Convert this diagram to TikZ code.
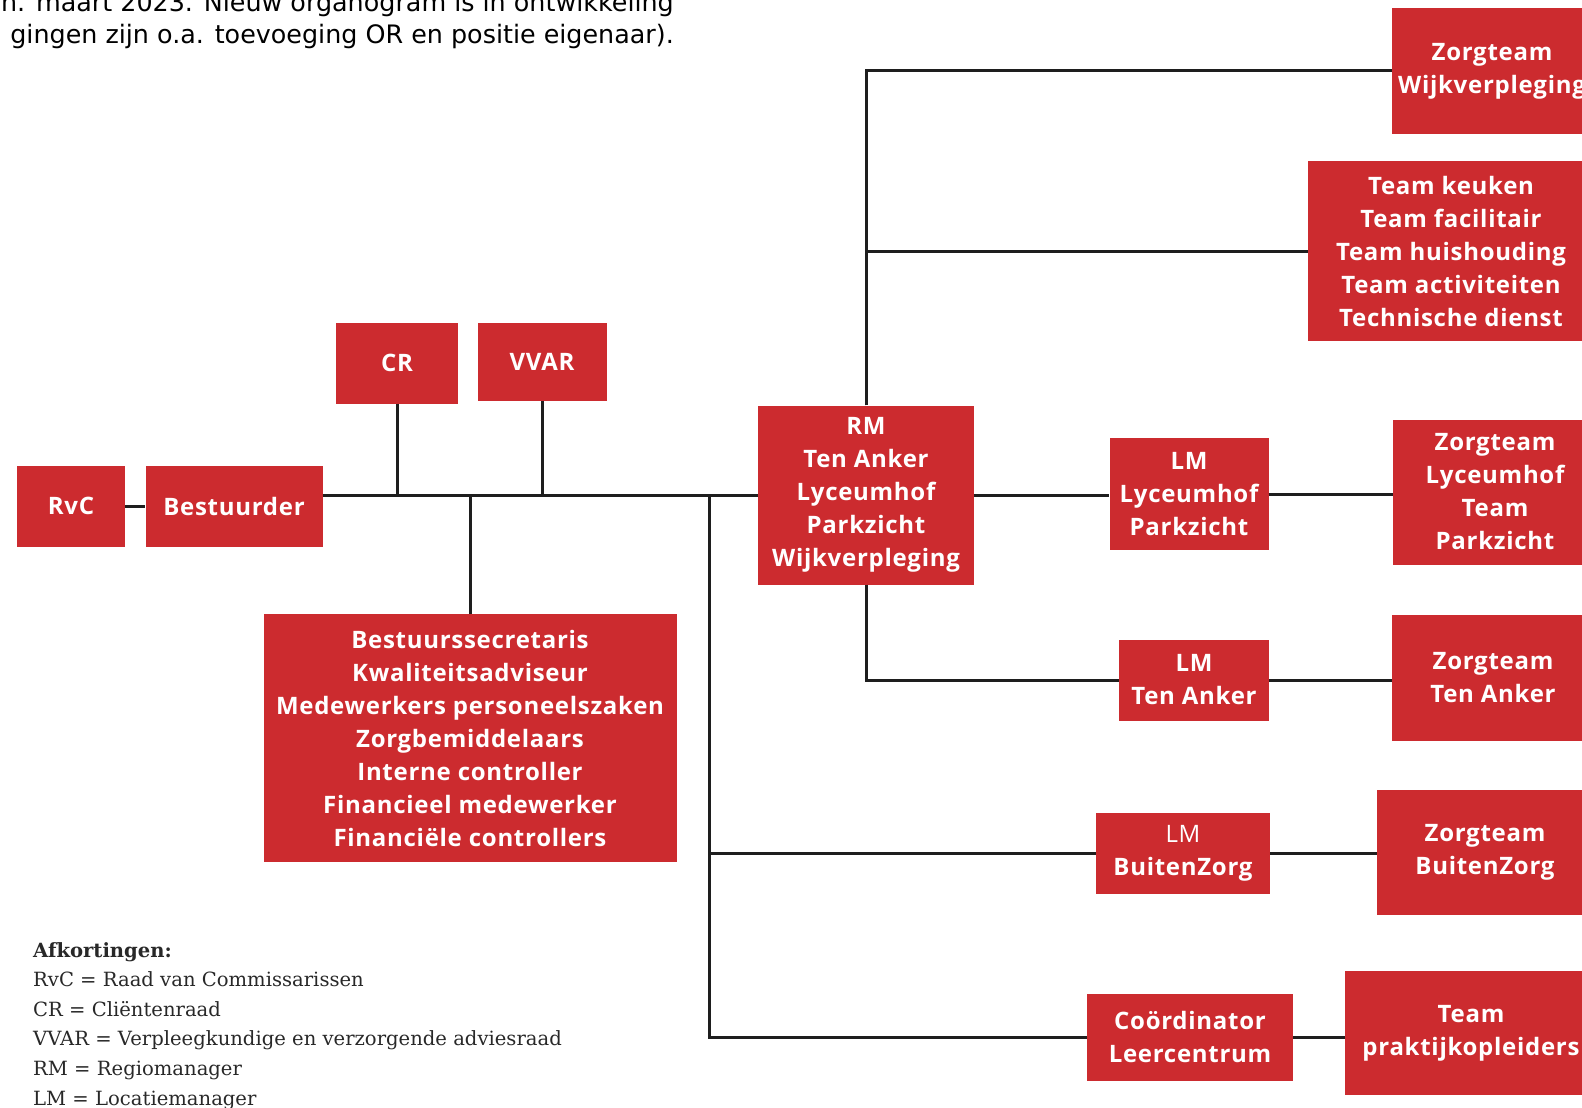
\documentclass[tikz,border=0pt]{standalone}
\usepackage{fontspec}
\usepackage{xcolor}
\usepackage{tikz}
\newfontfamily\boxfont{Open Sans}[LetterSpace=3]
\newfontfamily\notefont{DejaVu Serif}
\newfontfamily\topfont{DejaVu Sans}
\definecolor{orgRed}{RGB}{204,43,47}
\definecolor{orgLine}{RGB}{30,30,30}
\definecolor{orgText}{RGB}{40,40,40}
\tikzset{
  orgbox/.style={fill=orgRed, text=white, inner sep=0pt, align=center,
    font=\boxfont\bfseries\fontsize{24}{33}\selectfont},
  orgline/.style={draw=orgLine, line width=3pt},
  topnote/.style={anchor=base east, inner sep=0pt, text=black, font=\topfont\fontsize{25.4}{32}\selectfont},
}

\begin{document}
\begin{tikzpicture}[x=1pt, y=-1pt]
\useasboundingbox (0,0) rectangle (1582,1108);

% top note, cut off at the page edge
\node[topnote] (notitie1) at (674,12) {n. maart 2023. Nieuw organogram is in ontwikkeling};
\node[topnote] (notitie2) at (674,44) {gingen zijn o.a. toevoeging OR en positie eigenaar).};

% board
\node[orgbox, minimum width=108pt, minimum height=81pt] (rvc) at (71,506) {RvC};
\node[orgbox, minimum width=177pt, minimum height=81pt] (bestuurder) at (234,506) {Bestuurder};
\node[orgbox, minimum width=122pt, minimum height=81pt] (cr) at (397,363) {CR};
\node[orgbox, minimum width=129pt, minimum height=78pt] (vvar) at (542,362) {VVAR};
\node[orgbox, minimum width=413pt, minimum height=248pt] (staf) at (470,738)
  {Bestuurssecretaris\\Kwaliteitsadviseur\\Medewerkers personeelszaken\\Zorgbemiddelaars\\Interne controller\\Financieel medewerker\\Financiële controllers};

% region
\node[orgbox, minimum width=216pt, minimum height=179pt] (rm) at (866,495)
  {RM\\Ten Anker\\Lyceumhof\\Parkzicht\\Wijkverpleging};
\node[orgbox, minimum width=200pt, minimum height=125pt] (ztwijk) at (1492,71) {Zorgteam\\Wijkverpleging};
\node[orgbox, minimum width=286pt, minimum height=180pt] (teams) at (1451,251)
  {Team keuken\\Team facilitair\\Team huishouding\\Team activiteiten\\Technische dienst};
\node[orgbox, minimum width=159pt, minimum height=112pt] (lmlyc) at (1189,494) {LM\\Lyceumhof\\Parkzicht};
\node[orgbox, minimum width=204pt, minimum height=145pt] (ztlyc) at (1495,492) {Zorgteam\\Lyceumhof\\Team\\Parkzicht};
\node[orgbox, minimum width=150pt, minimum height=81pt] (lmta) at (1194,680) {LM\\Ten Anker};
\node[orgbox, minimum width=202pt, minimum height=126pt] (ztta) at (1493,678) {Zorgteam\\Ten Anker};
\node[orgbox, minimum width=174pt, minimum height=81pt] (lmbz) at (1183,853) {{\mdseries LM}\\BuitenZorg};
\node[orgbox, minimum width=216pt, minimum height=125pt] (ztbz) at (1485,852) {Zorgteam\\BuitenZorg};
\node[orgbox, minimum width=206pt, minimum height=87pt] (coord) at (1190,1037) {Coördinator\\Leercentrum};
\node[orgbox, minimum width=252pt, minimum height=124pt] (tpo) at (1471,1033) {Team\\praktijkopleiders};

\coordinate (tak) at (709,495);

% connectors
\draw[orgline] (rvc) -- (bestuurder);
\draw[orgline] (bestuurder.east |- rm.west) -- (rm.west);
\draw[orgline] (cr.south) -- (cr.south |- rm.west);
\draw[orgline] (vvar.south) -- (vvar.south |- rm.west);
\draw[orgline] (staf.north) -- (staf.north |- rm.west);
\draw[orgline] (tak) |- (lmbz.west);
\draw[orgline] (tak) |- (coord.west);
\draw[orgline] (rm.north) |- (ztwijk.west);
\draw[orgline] (rm.north) |- (teams.west);
\draw[orgline] (rm.east) -- (rm.east -| lmlyc.west);
\draw[orgline] (lmlyc.east) -- (lmlyc.east -| ztlyc.west);
\draw[orgline] (rm.south) |- (lmta.west);
\draw[orgline] (lmta.east) -- (lmta.east -| ztta.west);
\draw[orgline] (lmbz.east) -- (lmbz.east -| ztbz.west);
\draw[orgline] (coord.east) -- (coord.east -| tpo.west);

% legend
\node[anchor=north west, align=left, inner sep=0pt, text=orgText, font=\notefont\fontsize{19.6}{29.6}\selectfont] (legenda) at (33,942)
  {\textbf{Afkortingen:}\\RvC = Raad van Commissarissen\\CR = Cliëntenraad\\VVAR = Verpleegkundige en verzorgende adviesraad\\RM = Regiomanager\\LM = Locatiemanager};
\end{tikzpicture}
\end{document}
